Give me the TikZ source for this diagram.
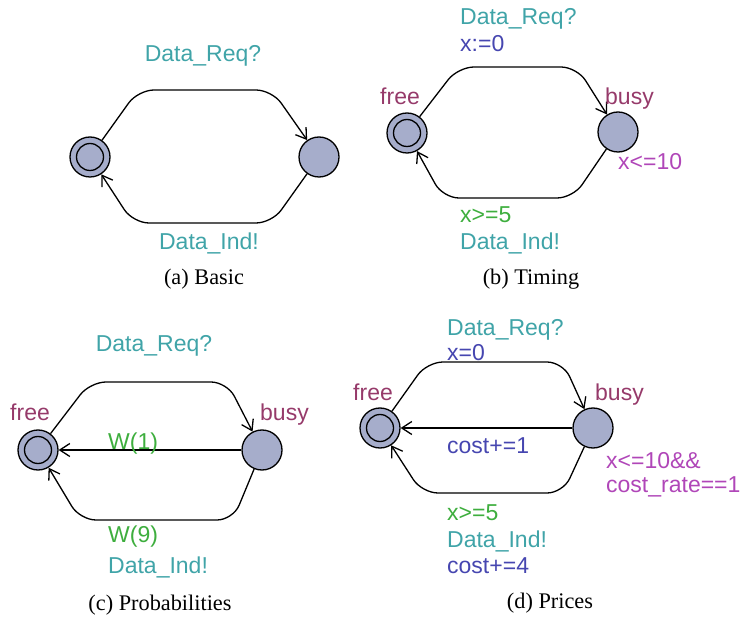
\documentclass[tikz,border=0pt]{standalone}
\usepackage{fontspec}
\setmainfont{Liberation Serif}
\newfontfamily\labfont{Liberation Sans}
\usetikzlibrary{arrows.meta}
\definecolor{locfill}{HTML}{A6ADCB}
\definecolor{chancol}{HTML}{40A4A8}
\definecolor{namecol}{HTML}{963A6A}
\definecolor{asgcol}{HTML}{4646B0}
\definecolor{invcol}{HTML}{B046B8}
\definecolor{grdcol}{HTML}{3EAE3E}
\tikzset{
  loc/.style={circle, draw, line width=1.3pt, fill=locfill, minimum size=40pt, inner sep=0pt},
  initloc/.style={loc, path picture={\draw[line width=1.3pt] (path picture bounding box.center) circle (13.5pt);}},
  trans/.style={line width=1.3pt, rounded corners=16pt, -{Straight Barb[length=10pt,width=13pt,line width=1.3pt]}},
  lbl/.style={font=\labfont\fontsize{23}{26}\selectfont, inner sep=0pt, anchor=base west},
  chan/.style={lbl, text=chancol},
  lname/.style={lbl, text=namecol},
  asg/.style={lbl, text=asgcol},
  inv/.style={lbl, text=invcol},
  grd/.style={lbl, text=grdcol},
  subcap/.style={font=\fontsize{22.3}{25}\selectfont, inner sep=0pt, anchor=base}
}
\begin{document}
\begin{tikzpicture}[x=1pt,y=-1pt]
\useasboundingbox (0,0) rectangle (741,617);

% (a) Basic
\node[initloc] (a1) at (90,157) {};
\node[loc] (a2) at (319,157) {};
\draw[trans] (a1) -- (138,90) -- (272,90) -- (a2);
\draw[trans] (a2) -- (272,223) -- (133,223) -- (a1);
\node[chan, anchor=base] (a3) at (203,62) {Data\_Req?};
\node[chan, anchor=base] (a4) at (209,250) {Data\_Ind!};
\node[subcap] (a5) at (204,285) {(a) Basic};

% (b) Timing
\node[initloc] (b1) at (407,133) {};
\node[loc] (b2) at (618,132) {};
\draw[trans] (b1) -- (458,67) -- (577,67) -- (b2);
\draw[trans] (b2) -- (573,198) -- (443,198) -- (b1);
\node[chan] (b3) at (460,25) {Data\_Req?};
\node[asg] (b4) at (460,52) {x:=0};
\node[lname] (b5) at (380,105) {free};
\node[lname] (b6) at (605,105) {busy};
\node[inv] (b7) at (618,170) {x<=10};
\node[grd] (b8) at (460,223) {x>=5};
\node[chan] (b9) at (460,250) {Data\_Ind!};
\node[subcap] (b10) at (531,285) {(b) Timing};

% (c) Probabilities
\node[initloc] (c1) at (38,450) {};
\node[loc] (c2) at (262,450) {};
\draw[trans] (c1) -- (90,382) -- (227,382) -- (c2);
\draw[trans] (c2) -- (c1);
\draw[trans] (c2) -- (233,520) -- (80,520) -- (c1);
\node[chan, anchor=base] (c3) at (154,352) {Data\_Req?};
\node[lname] (c4) at (10,420) {free};
\node[lname] (c5) at (260,420) {busy};
\node[grd] (c6) at (108,449) {W(1)};
\node[grd] (c7) at (108,542) {W(9)};
\node[chan] (c8) at (108,573) {Data\_Ind!};
\node[subcap] (c9) at (160,610) {(c) Probabilities};

% (d) Prices
\node[initloc] (d1) at (380,428) {};
\node[loc] (d2) at (593,428) {};
\draw[trans] (d1) -- (427,362) -- (563,362) -- (d2);
\draw[trans] (d2) -- (d1);
\draw[trans] (d2) -- (563,493) -- (422,493) -- (d1);
\node[chan] (d3) at (447,335) {Data\_Req?};
\node[asg] (d4) at (447,360) {x=0};
\node[lname] (d5) at (353,400) {free};
\node[lname] (d6) at (595,400) {busy};
\node[asg] (d7) at (447,453) {cost+=1};
\node[inv] (d8) at (606,468) {x<=10\&\&};
\node[inv] (d9) at (606,492) {cost\_rate==1};
\node[grd] (d10) at (447,520) {x>=5};
\node[chan] (d11) at (447,547) {Data\_Ind!};
\node[asg] (d12) at (447,573) {cost+=4};
\node[subcap] (d13) at (550,608) {(d) Prices};
\end{tikzpicture}
\end{document}
